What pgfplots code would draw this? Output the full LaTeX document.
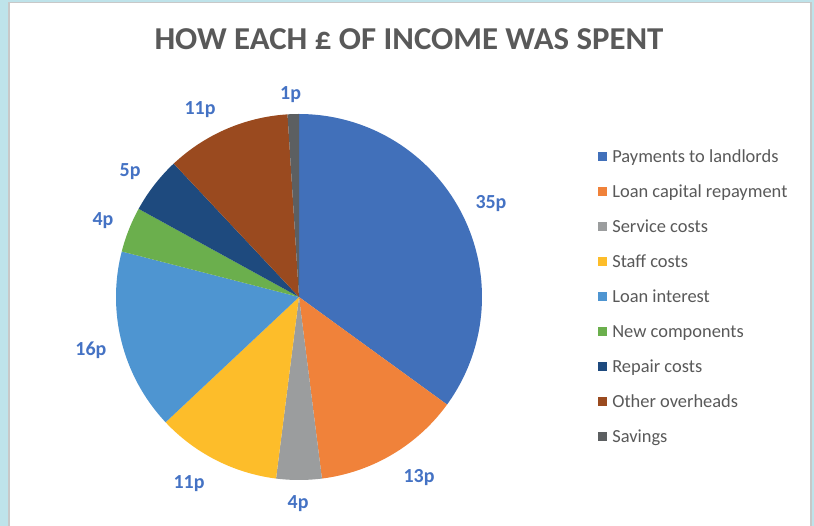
\documentclass[border=0pt]{standalone}
\usepackage{pgfplots}
\pgfplotsset{compat=1.18}
\usepackage{fontspec}
\setmainfont{Carlito}
\definecolor{bgblue}{HTML}{BEE3EA}
\definecolor{frame}{HTML}{C8C8C8}
\definecolor{titlegray}{HTML}{595959}
\definecolor{labblue}{HTML}{4472C4}
\definecolor{c1}{HTML}{4170BA}
\definecolor{c2}{HTML}{F0823A}
\definecolor{c3}{HTML}{9B9D9E}
\definecolor{c4}{HTML}{FDBD2A}
\definecolor{c5}{HTML}{4E95D1}
\definecolor{c6}{HTML}{6BAF4D}
\definecolor{c7}{HTML}{1E4A7E}
\definecolor{c8}{HTML}{9A4A1F}
\definecolor{c9}{HTML}{5C5F61}
\tikzset{lab/.style={font=\fontsize{20}{20}\selectfont\bfseries, text=labblue, inner sep=0, text height=12.4bp, text depth=0pt}}
\newcommand\cum{90}
% value, colour, legend text, label x, label y (label position in pie radii)
\newcommand\pieslice[5]{%
  \pgfmathsetmacro\sA{\cum}%
  \pgfmathsetmacro\sB{\cum-3.6*#1}%
  \xdef\cum{\sB}%
  \edef\temp{\noexpand\addplot[draw=none, fill=#2, domain=\sB:\sA, samples=90, variable=\noexpand\t] ({cos(\noexpand\t)},{sin(\noexpand\t)}) -- (axis cs:0,0) -- cycle;
  \noexpand\addlegendentry{#3}
  \noexpand\node[lab] at (axis cs:#4,#5) {#1p};}%
  \temp}
\begin{document}
\begin{tikzpicture}
\fill[bgblue] (0,0) rectangle (814bp,526bp);
\fill[frame] (8bp,0) rectangle (812bp,524bp);
\fill[white] (10bp,0) rectangle (810bp,523bp);
\node[anchor=base, font=\fontsize{32}{32}\selectfont\bfseries, text=titlegray, inner sep=0, xscale=1.03] at (409bp,476bp) {HOW EACH £ OF INCOME WAS SPENT};
\begin{axis}[
  x=183bp, y=183bp,
  xmin=-1.2, xmax=1.2, ymin=-1.2, ymax=1.2,
  anchor=origin, at={(299bp,229bp)},
  hide axis, clip=false,
  legend image code/.code={\fill[#1] (0bp,-4.5bp) rectangle (9bp,4.5bp); \path (14bp,0bp);},
  legend style={draw=none, fill=none, inner sep=0pt, at={(1.181,0.833)}, anchor=north west,
    row sep=23bp,
    nodes={font=\fontsize{18.5}{18.5}\selectfont, text=titlegray, inner sep=0pt, text height=12bp, text depth=0pt, anchor=west}},
]
\pieslice{35}{c1}{Payments to landlords}{1.049}{0.519}
\pieslice{13}{c2}{Loan capital repayment}{0.656}{-0.978}
\pieslice{4}{c3}{Service costs}{-0.005}{-1.120}
\pieslice{11}{c4}{Staff costs}{-0.601}{-1.011}
\pieslice{16}{c5}{Loan interest}{-1.137}{-0.284}
\pieslice{4}{c6}{New components}{-1.071}{0.426}
\pieslice{5}{c7}{Repair costs}{-0.923}{0.694}
\pieslice{11}{c8}{Other overheads}{-0.541}{1.033}
\pieslice{1}{c9}{Savings}{-0.046}{1.115}
\end{axis}
\end{tikzpicture}
\end{document}
